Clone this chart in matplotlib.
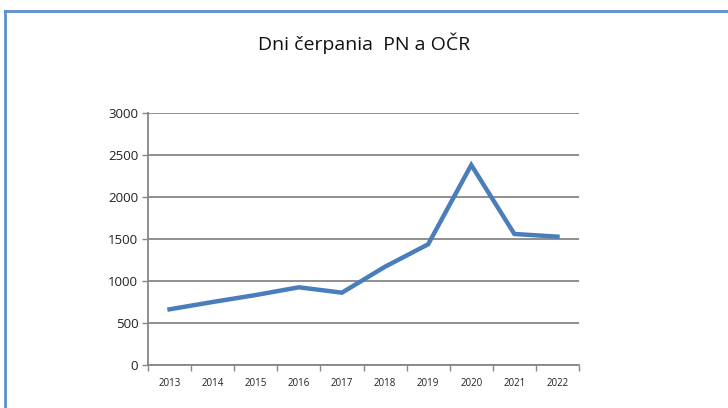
import matplotlib
matplotlib.use("Agg")
import numpy as np
from matplotlib import pyplot as plt
from matplotlib.lines import Line2D

years = ["2013", "2014", "2015", "2016", "2017", "2018", "2019", "2020", "2021", "2022"]
days = [663, 750, 833, 925, 861, 1170, 1437, 2381, 1560, 1528]
yticks = [0, 500, 1000, 1500, 2000, 2500, 3000]

plt.rcParams["font.family"] = ["Open Sans", "DejaVu Sans"]

W, H = 728, 408
fig = plt.figure(figsize=(W / 100, H / 100), dpi=100)
ax = fig.add_axes([148 / W, 1 - 365 / H, (579 - 148) / W, (365 - 113) / H])

x = np.arange(len(years))
ax.plot(x, days, color="#4a7ebb", lw=3.2, solid_joinstyle="miter", zorder=3)

ax.set_xlim(-0.5, len(years) - 0.5)
ax.set_ylim(0, 3000)
ax.set_yticks(yticks)
ax.set_yticklabels([str(v) for v in yticks], fontsize=9.5, color="#222222")
ax.set_xticks(x)
ax.set_xticklabels(years, fontsize=7, color="#222222")
ax.set_xticks(np.arange(-0.5, len(years)), minor=True)
ax.tick_params(axis="x", which="major", length=0, pad=9)
ax.tick_params(axis="x", which="minor", length=4, color="#868686", width=1)
ax.tick_params(axis="y", length=4, color="#868686", width=1, pad=3)

ax.grid(axis="y", color="#868686", lw=1.3)
ax.set_axisbelow(True)
for s in ["top", "right"]:
    ax.spines[s].set_visible(False)
for s in ["left", "bottom"]:
    ax.spines[s].set_color("#868686")
    ax.spines[s].set_linewidth(1.3)

fig.text(364 / W, 1 - 43 / H, "Dni čerpania  PN a OČR", ha="center", va="center",
         fontsize=14, color="#111111")

# outer frame (blue border on top and left)
fig.add_artist(Line2D([5 / W, 1], [1 - 11 / H, 1 - 11 / H], color="#5b8fd0", lw=2))
fig.add_artist(Line2D([5 / W, 5 / W], [0, 1 - 11 / H], color="#5b8fd0", lw=2))

fig.savefig("out.png", dpi=100)
